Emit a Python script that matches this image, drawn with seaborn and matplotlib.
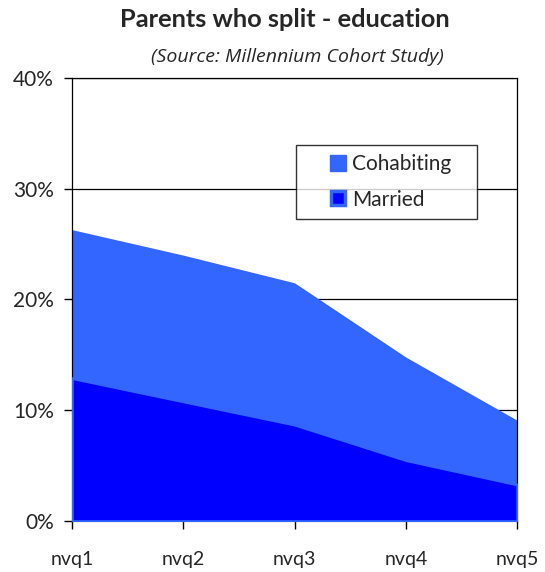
import numpy as np
import pandas as pd
import matplotlib
matplotlib.use("Agg")
import matplotlib.pyplot as plt
import seaborn as sns
from matplotlib.lines import Line2D

# data (percent)
levels = ["nvq1", "nvq2", "nvq3", "nvq4", "nvq5"]
cohabiting = [26.3, 24.0, 21.5, 14.8, 9.1]
married = [12.9, 10.8, 8.7, 5.5, 3.3]
yticks = [0, 10, 20, 30, 40]

df = pd.DataFrame({"level": levels, "Cohabiting": cohabiting, "Married": married})
x = np.arange(len(levels))

sns.set_style("white")
plt.rcParams["font.family"] = ["Lato", "DejaVu Sans"]

fig = plt.figure(figsize=(5.45, 5.72), dpi=100)
ax = fig.add_axes([0.132, 0.089, 0.817, 0.775])

light = "#3366FF"
dark = "#0000FF"

ax.fill_between(x, 0, df["Cohabiting"], color=light, lw=0, zorder=2)
ax.fill_between(x, 0, df["Married"], facecolor=dark, edgecolor=light, lw=2, zorder=3)

ax.set_xlim(0, len(levels) - 1)
ax.set_ylim(0, 40)
ax.set_yticks(yticks)
ax.set_yticklabels([f"{v}%" for v in yticks], fontsize=15)
ax.set_xticks(x)
ax.set_xticklabels(levels, fontsize=14)
for v in yticks[1:]:
    ax.axhline(v, color="black", lw=0.9, zorder=1)

for s in ax.spines.values():
    s.set_visible(True)
    s.set_color("black")
    s.set_linewidth(0.9)
ax.spines["bottom"].set_color("#808080")
ax.tick_params(axis="y", which="major", direction="out", length=6, width=1, pad=7, left=True, color="black")
ax.tick_params(axis="x", which="major", direction="out", length=6, width=1, pad=15.5, bottom=True, color="black")

fig.text(0.523, 0.966, "Parents who split - education", ha="center", va="center",
         fontsize=18.3, fontweight="bold")
fig.text(0.545, 0.900, "(Source: Millennium Cohort Study)", ha="center", va="center",
         fontsize=14, style="italic", family=["Open Sans", "DejaVu Sans"])

handles = [Line2D([], [], ls="none", marker="s", markersize=11,
                  markerfacecolor=light, markeredgecolor=light, label="Cohabiting"),
           Line2D([], [], ls="none", marker="s", markersize=10,
                  markerfacecolor=dark, markeredgecolor=light, markeredgewidth=2.5,
                  label="Married")]
leg = ax.legend(handles=handles, loc="upper left",
                bbox_to_anchor=(0.503, 0.849, 0.407, 0.0), mode="expand",
                fontsize=15, frameon=True, fancybox=False, shadow=False, numpoints=1,
                borderpad=0.45, labelspacing=0.75, handlelength=3.1, handleheight=0.7,
                handletextpad=-0.85, borderaxespad=0)
leg.get_frame().set_edgecolor("black")
leg.get_frame().set_linewidth(1)
leg.set_zorder(5)

fig.savefig("out.png", dpi=100)
